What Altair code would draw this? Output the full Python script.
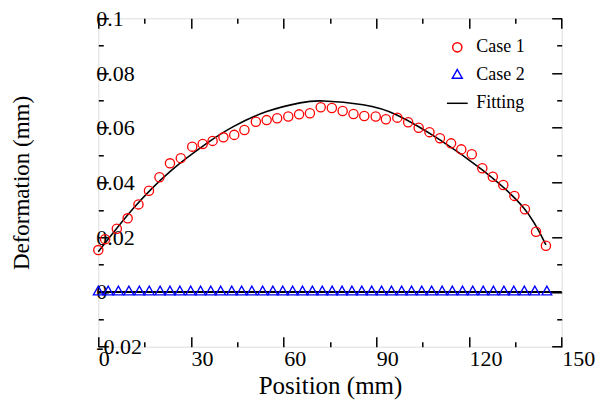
import altair as alt
import pandas as pd

# ---- data ----
case1_x = [0, 2.2, 6.0, 9.5, 13.0, 16.4, 19.8, 23.2, 26.7, 30.4, 33.8, 37.0, 40.5, 44.0,
           47.3, 51.0, 54.5, 57.9, 61.5, 65.0, 68.5, 72.0, 75.6, 79.1, 82.6, 86.1, 89.8,
           93.1, 96.8, 100.3, 103.7, 107.2, 110.6, 114.2, 117.5, 120.9, 124.3, 127.7,
           131.1, 134.7, 138.1, 141.7, 144.9]
case1_y = [0.0153, 0.0193, 0.0231, 0.0269, 0.0320, 0.0370, 0.0419, 0.0470, 0.0489, 0.0531,
           0.0541, 0.0552, 0.0565, 0.0574, 0.0592, 0.0622, 0.0628, 0.0635, 0.0641, 0.0649,
           0.0653, 0.0675, 0.0672, 0.0661, 0.0650, 0.0643, 0.0641, 0.0631, 0.0637, 0.0620,
           0.0600, 0.0584, 0.0562, 0.0543, 0.0521, 0.0503, 0.0452, 0.0421, 0.0391, 0.0351,
           0.0302, 0.0220, 0.0169]

case2_x = [0, 3.2, 6.5, 9.9, 13.3, 16.5, 20.0, 23.2, 26.4, 29.9, 33.1, 36.4, 39.6, 43.2,
           46.4, 49.7, 53.2, 56.5, 59.7, 62.9, 66.1, 69.3, 72.5, 75.7, 78.9, 82.1, 85.3,
           88.5, 91.7, 94.9, 98.2, 101.4, 104.7, 107.9, 111.3, 114.6, 117.9, 121.2, 124.6,
           127.9, 131.3, 134.5, 137.9, 141.3, 145.2]
case2_y = [0] * len(case2_x)

fit_x = [0, 11.3, 23.2, 35.1, 43.7, 54.5, 65.3, 73.0, 85.7, 96.8, 110.6, 124.3, 137.6, 144.9]
fit_y = [0.0147, 0.0305, 0.0440, 0.0543, 0.0604, 0.0659, 0.0691, 0.0698, 0.0684, 0.0646,
         0.0556, 0.0446, 0.0309, 0.0172]

zero_x = [0, 150]
zero_y = [0, 0]

x_major = [0, 30, 60, 90, 120, 150]
x_minor = [15, 45, 75, 105, 135]
y_major = [-0.02, 0, 0.02, 0.04, 0.06, 0.08, 0.1]
y_minor = [-0.01, 0.01, 0.03, 0.05, 0.07, 0.09]

series_names = ["Case 1", "Case 2", "Fitting"]
series_colors = ["#ff0000", "#0000ff", "#000000"]
series_shapes = ["circle", "M0,-1.18L1,0.59L-1,0.59Z", "M-2,0L2,0"]
series_sizes = [85, 108, 100]

FONT = "Liberation Serif"

df1 = pd.DataFrame({"x": case1_x, "y": case1_y, "series": "Case 1"})
df2 = pd.DataFrame({"x": case2_x, "y": case2_y, "series": "Case 2"})
dff = pd.DataFrame({"x": fit_x, "y": fit_y, "series": "Fitting"})
dfz = pd.DataFrame({"x": zero_x, "y": zero_y})

xs = alt.Scale(domain=[0, 150], nice=False)
ys = alt.Scale(domain=[-0.02, 0.1], nice=False)

common = dict(domain=False, grid=False, tickColor="black", tickWidth=1.5)


def xaxis(orient, values, size, labels=False, title=None):
    kw = dict(common)
    kw.update(orient=orient, values=values, tickSize=size, offset=-size, labels=labels, title=title)
    if labels:
        kw.update(labelAlign="left", labelBaseline="top", labelPadding=2, labelFontSize=22,
                  labelFont=FONT, labelColor="black", labelFlush=False, labelOverlap=False,
                  titleFont=FONT, titleFontSize=25, titleFontWeight="normal", titleColor="black",
                  titlePadding=4)
    return alt.Axis(**kw)


def yaxis(orient, values, size, labels=False, title=None):
    kw = dict(common)
    kw.update(orient=orient, values=values, tickSize=size, offset=-size, labels=labels, title=title)
    if labels:
        kw.update(labelAlign="left", labelBaseline="middle", labelPadding=2.6, labelFontSize=22,
                  labelFont=FONT, labelColor="black", labelFlush=False, labelOverlap=False,
                  labelExpr="toString(datum.value)",
                  titleFont=FONT, titleFontSize=23, titleFontWeight="normal", titleColor="black",
                  titlePadding=62)
    return alt.Axis(**kw)


legend = alt.Legend(orient="none", legendX=350, legendY=20, title=None, labelFontSize=18,
                    labelFont=FONT, labelColor="black", labelOffset=10, rowPadding=10,
                    symbolStrokeWidth=1.5, padding=0)

color_enc = alt.Color("series:N", scale=alt.Scale(domain=series_names, range=series_colors), legend=legend)
shape_enc = alt.Shape("series:N", scale=alt.Scale(domain=series_names, range=series_shapes), legend=legend)
size_enc = alt.Size("series:N", scale=alt.Scale(domain=series_names, range=series_sizes), legend=legend)

fit = alt.Chart(dff).mark_line(color="black", strokeWidth=1.6, interpolate="natural").encode(
    x=alt.X("x:Q", scale=xs, axis=xaxis("bottom", x_major, 10, labels=True, title="Position (mm)")),
    y=alt.Y("y:Q", scale=ys, axis=yaxis("left", y_major, 10, labels=True, title="Deformation (mm)")),
)

pts1 = alt.Chart(df1).mark_point(filled=False, strokeWidth=1.3, opacity=1).encode(
    x=alt.X("x:Q", scale=xs, axis=xaxis("bottom", x_minor, 5)),
    y=alt.Y("y:Q", scale=ys, axis=yaxis("left", y_minor, 5)),
    color=color_enc, shape=shape_enc, size=size_enc,
)

pts2 = alt.Chart(df2).mark_point(filled=False, strokeWidth=1.3, opacity=1).encode(
    x=alt.X("x:Q", scale=xs, axis=xaxis("top", x_major, 10)),
    y=alt.Y("y:Q", scale=ys, axis=yaxis("right", y_major, 10)),
    color=color_enc, shape=shape_enc, size=size_enc,
)

zero = alt.Chart(dfz).mark_line(color="black", strokeWidth=2).encode(
    x=alt.X("x:Q", scale=xs, axis=xaxis("top", x_minor, 5)),
    y=alt.Y("y:Q", scale=ys, axis=yaxis("right", y_minor, 5)),
)

chart = alt.layer(zero, fit, pts2, pts1).resolve_axis(
    x="independent", y="independent"
).properties(
    width=463.4, height=328.4,
    autosize=alt.AutoSizeParams(type="none"),
    padding={"left": 90.3, "top": 10.3, "right": 36, "bottom": 53},
).configure_view(stroke="black", strokeWidth=2).configure(background="white")

chart.save("out.html", embed_options={"renderer": "svg", "actions": False})
